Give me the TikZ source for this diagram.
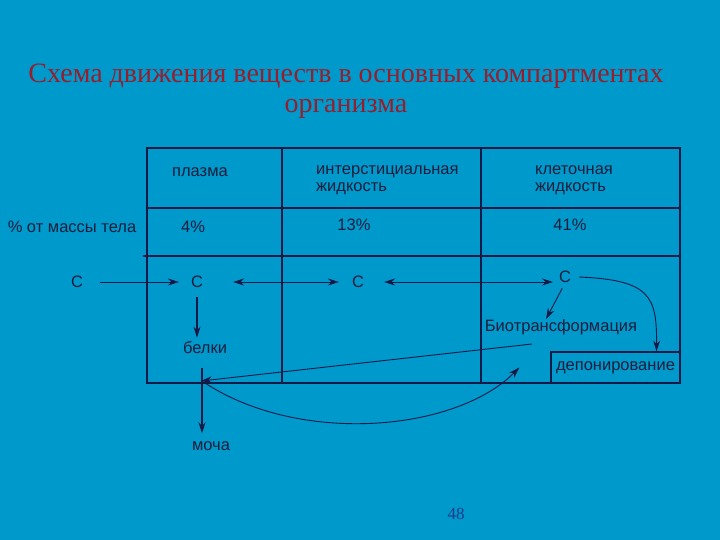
\documentclass[tikz,border=0pt]{standalone}
\usepackage{fontspec}
\setmainfont{Liberation Serif}
\setsansfont{Liberation Sans}
\usetikzlibrary{arrows.meta}
\definecolor{slidebg}{RGB}{0,153,204}
\definecolor{titlered}{RGB}{150,30,45}
\definecolor{inkline}{RGB}{20,25,70}
\definecolor{inktext}{RGB}{25,30,60}
\definecolor{pagenum}{RGB}{30,60,140}

\begin{document}
\begin{tikzpicture}[x=1pt,y=-1pt,
  lbl/.style={font=\sffamily\fontsize{16.5}{17}\selectfont, text=inktext, inner sep=0pt},
  grid/.style={draw=inkline, line width=1.2pt},
  flow/.style={draw=inkline, line width=0.9pt, -{Stealth[length=11pt,width=7pt]}},
  flowboth/.style={draw=inkline, line width=0.9pt, {Stealth[length=11pt,width=7pt]}-{Stealth[length=11pt,width=7pt]}}]
\fill[slidebg] (0,0) rectangle (720,540);
\useasboundingbox (0,0) rectangle (720,540);
% title
\node[font=\fontsize{28}{30}\selectfont, text=titlered, align=center] (title) at (346,91)
  {Схема движения веществ в основных компартментах\\организма};
% table
\draw[grid] (147,148) rectangle (680,383);
\draw[grid] (282,148) -- (282,383);
\draw[grid] (481,148) -- (481,383);
\draw[grid] (147,208) -- (680,208);
\draw[grid] (143,256) -- (680,256);
% headers
\node[lbl] (plasma) at (200,172) {плазма};
\node[lbl, align=left, anchor=west] (inter) at (316,180) {интерстициальная\\жидкость};
\node[lbl, align=left, anchor=west] (cell) at (535,180) {клеточная\\жидкость};
\node[lbl] (mass) at (72,227) {\% от массы тела};
\node[lbl] (p1) at (193,227) {4\%};
\node[lbl] (p2) at (354,225) {13\%};
\node[lbl] (p3) at (570,225) {41\%};
% substance
\node[lbl] (c0) at (77,282) {С};
\node[lbl] (c1) at (197,282) {С};
\node[lbl] (c2) at (358,282) {С};
\node[lbl] (c3) at (565,277) {С};
\node[lbl] (belki) at (205,348) {белки};
\node[lbl] (bio) at (561,327) {Биотрансформация};
\node[lbl, draw=inkline, line width=1.2pt, minimum width=129pt, minimum height=31pt] (depo) at (615.5,367.5) {депонирование};
\node[lbl] (urine) at (211,446) {моча};
\coordinate (hub) at (201,381);
\coordinate (hubtop) at (202,368);
\coordinate (biofoot) at (532,344);
% arrows
\draw[flow, shorten <=17pt, shorten >=12pt] (c0) -- (c1);
\draw[flowboth, shorten <=30pt, shorten >=13pt] (c1) -- (c2);
\draw[flowboth, shorten <=20pt, shorten >=12pt] (c2) -- (c2 -| c3);
\draw[flow] ([xshift=8pt]c3.east) .. controls (650,280) and (657,296) .. ([xshift=41pt]depo.north);
\draw[flow, shorten <=6pt] (c3.south) -- ([xshift=-15pt]bio.north);
\draw[flow, line width=1.3pt, shorten <=9pt, shorten >=4pt] (c1.south) -- (c1 |- belki.north);
\draw[flow] (biofoot) -- (hub);
\draw[flow, line width=1.3pt, shorten >=8pt] (hubtop) -- (hubtop |- urine.north);
\draw[flow] ([xshift=4pt,yshift=-2pt]hub) .. controls (300,445) and (455,432) .. ([xshift=-31pt]depo.west);
% page number
\node[font=\fontsize{17}{20}\selectfont, text=pagenum] (page) at (456,514) {48};
\end{tikzpicture}
\end{document}
